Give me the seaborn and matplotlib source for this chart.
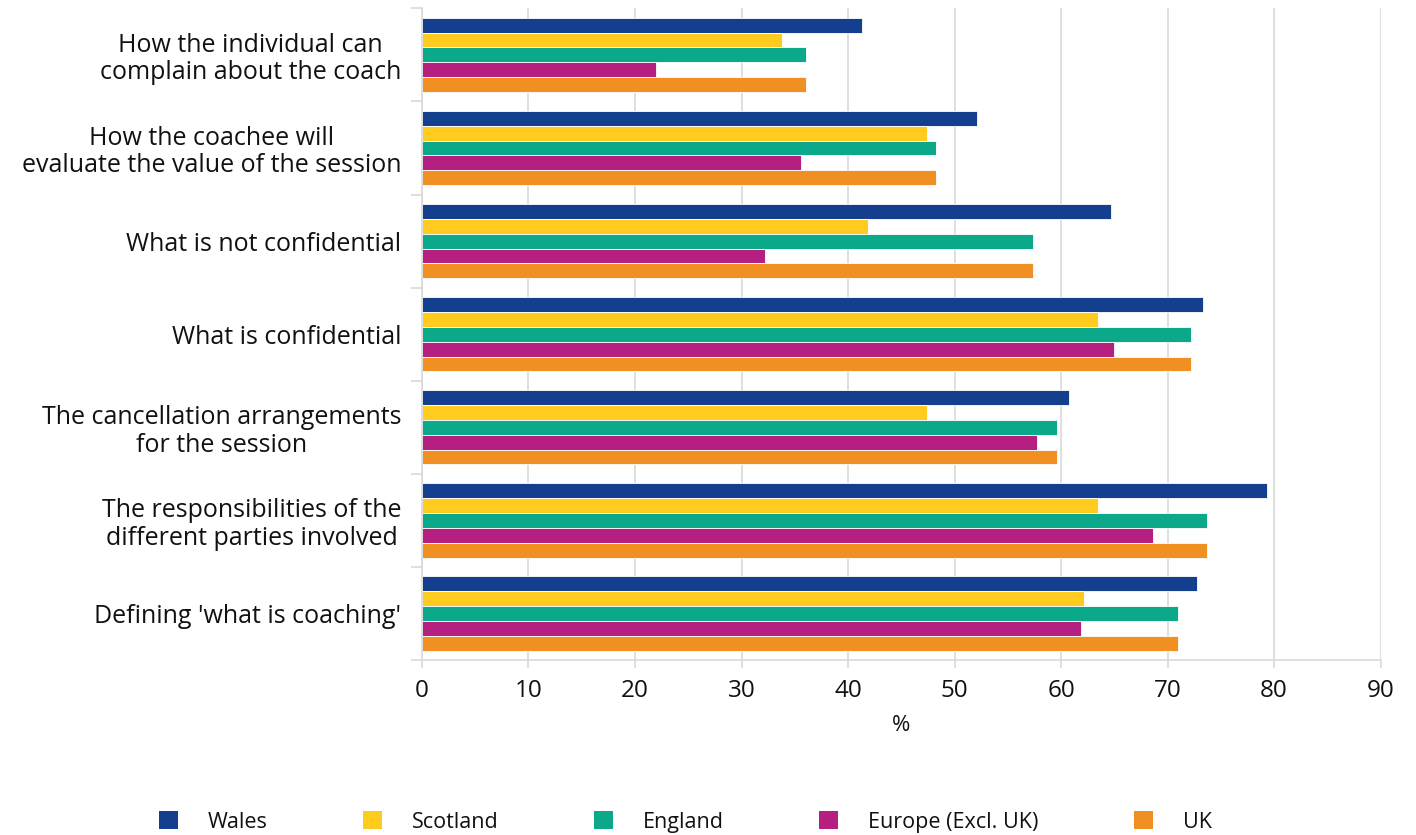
import matplotlib
matplotlib.use("Agg")
import matplotlib.pyplot as plt
import seaborn as sns
import pandas as pd
from matplotlib.patches import Patch

categories = [
    "How the individual can\ncomplain about the coach",
    "How the coachee will\nevaluate the value of the session",
    "What is not confidential",
    "What is confidential",
    "The cancellation arrangements\nfor the session",
    "The responsibilities of the\ndifferent parties involved",
    "Defining 'what is coaching'",
]
regions = ["Wales", "Scotland", "England", "Europe (Excl. UK)", "UK"]
wales = [41.3, 52.1, 64.7, 73.3, 60.7, 79.3, 72.8]
scotland = [33.8, 47.4, 41.9, 63.5, 47.4, 63.5, 62.2]
england = [36.1, 48.3, 57.4, 72.2, 59.6, 73.7, 71.0]
europe = [22.0, 35.6, 32.2, 65.0, 57.7, 68.6, 61.9]
uk = [36.1, 48.3, 57.4, 72.2, 59.6, 73.7, 71.0]
colors = ["#143F8F", "#FFCB1F", "#0BA98A", "#B51F80", "#F09022"]

series = [wales, scotland, england, europe, uk]
rows = []
for reg, vals in zip(regions, series):
    for cat, v in zip(categories, vals):
        rows.append({"Category": cat, "Region": reg, "Value": v})
df = pd.DataFrame(rows)

sns.set_theme(style="white")
plt.rcParams['font.family'] = ['Open Sans', 'DejaVu Sans']

fig = plt.figure(figsize=(14.16, 8.35), dpi=100)
ax = fig.add_axes([0.298, 0.2096, 0.677, 0.7804])

sns.barplot(data=df, y="Category", x="Value", hue="Region", order=categories,
            hue_order=regions, palette=colors, orient="h", width=0.8,
            saturation=1, edgecolor="white", linewidth=0.6, ax=ax, legend=False)

ax.set_xlim(0, 90)
ax.set_ylim(len(categories) - 0.5, -0.5)
ax.set_xticks(range(0, 91, 10))
ax.xaxis.grid(True, color="#D9D9D9", linewidth=1.2)
ax.set_axisbelow(True)
for s in ["top", "right"]:
    ax.spines[s].set_visible(False)
for s in ["left", "bottom"]:
    ax.spines[s].set_color("#D9D9D9")
    ax.spines[s].set_linewidth(1.2)

ax.tick_params(axis="x", labelsize=17.5, length=6, color="#D9D9D9", width=1.2,
               direction="out", pad=8, bottom=True, labelcolor="#111111")
ax.tick_params(axis="y", labelsize=18, length=0, pad=15, labelcolor="#111111")
for lbl in ax.get_yticklabels():
    lbl.set_multialignment("center")
    lbl.set_linespacing(1.12)

# category boundary ticks on the left
ax.set_yticks([i + 0.5 for i in range(-1, len(categories))], minor=True)
ax.tick_params(axis="y", which="minor", left=True, length=8, color="#D9D9D9", width=1.2)

ax.set_xlabel("%", fontsize=16, labelpad=8, color="#111111")
ax.set_ylabel("")

handles = [Patch(facecolor=c, edgecolor="none") for c in colors]
fig.legend(handles, regions, loc="center", bbox_to_anchor=(0.484, 0.0156),
           ncol=5, frameon=False, fontsize=15.5, handlelength=0.9, handleheight=0.9,
           handletextpad=1.4, columnspacing=4.4, labelcolor="#111111")

fig.savefig("out.png", dpi=100)
